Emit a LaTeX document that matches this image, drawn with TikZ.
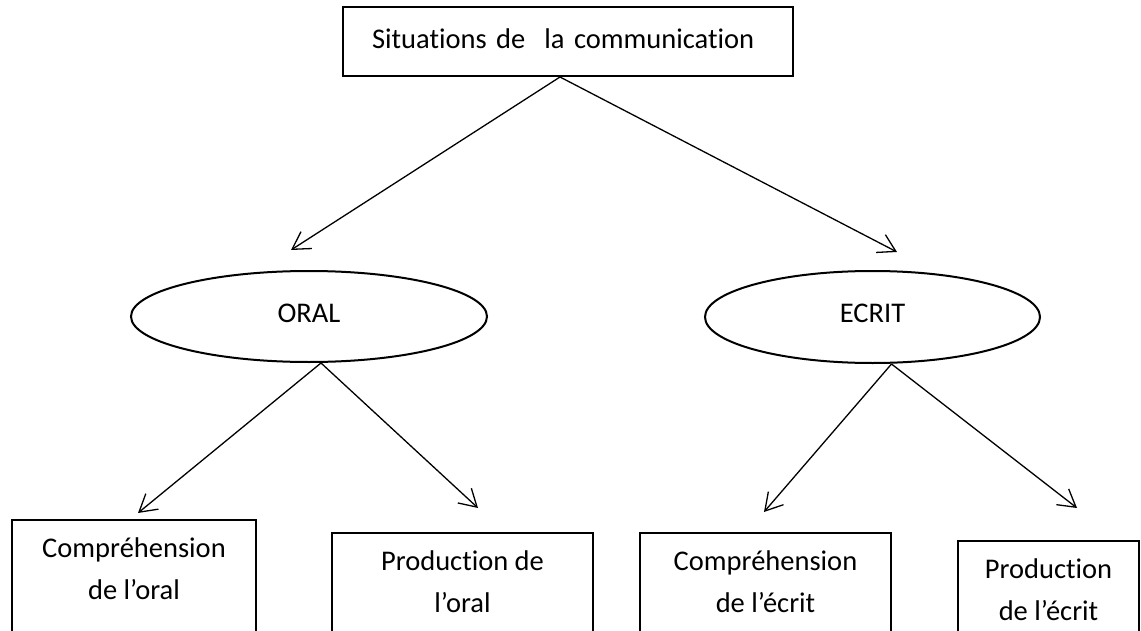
\documentclass[tikz,border=0pt]{standalone}
\usepackage{fontspec}
\setmainfont[Ligatures=NoCommon]{Carlito}
\usetikzlibrary{shapes.geometric,arrows.meta,calc}
\begin{document}
\begin{tikzpicture}[x=0.5pt,y=-0.5pt,
  every node/.style={font=\fontsize{14.25}{21}\selectfont},
  boxst/.style={draw, line width=1pt, rectangle, inner sep=0pt},
  ell/.style={draw, line width=1pt, ellipse, inner sep=0pt, text depth=3.5pt},
  txt/.style={align=center, inner sep=0pt},
  arr/.style={line width=0.65pt, -{Straight Barb[length=8.5pt,width=10pt,line width=0.65pt]}}]
\useasboundingbox (0,0) rectangle (1141,631);
\clip (0,0) rectangle (1141,631);
% top box
\node[boxst, minimum width=225pt, minimum height=34.5pt, text width=196pt, inner xsep=14.5pt, align=left, text depth=3pt] (top) at (568,41.5) {Situations de\ \ la communication};
% ellipses
\node[ell, minimum width=178pt, minimum height=45.5pt] (oral) at (309,316.5) {ORAL};
\node[ell, minimum width=167.5pt, minimum height=46pt] (ecrit) at (872.5,317) {ECRIT};
% bottom boxes
\node[boxst, anchor=north west, minimum width=122pt, minimum height=100pt] (b1) at (11,519) {};
\node[boxst, anchor=north west, minimum width=130.5pt, minimum height=100pt] (b2) at (331,532) {};
\node[boxst, anchor=north west, minimum width=125.5pt, minimum height=100pt] (b3) at (639,532) {};
\node[boxst, anchor=north west, minimum width=90.5pt, minimum height=100pt] (b4) at (957,540) {};
\node[txt, anchor=north] (b1t) at ($(b1.north)+(0,18)$) {Compréhension\\de l’oral};
\node[txt, anchor=north] (b2t) at ($(b2.north)+(0,18)$) {Production de\\l’oral};
\node[txt, anchor=north] (b3t) at ($(b3.north)+(0,18)$) {Compréhension\\de l’écrit};
\node[txt, anchor=north] (b4t) at ($(b4.north)+(0,18)$) {Production\\de l’écrit};
% arrow ends
\coordinate (a1) at (291,250);
\coordinate (a2) at (897,252);
\coordinate (a3) at (138,513);
\coordinate (a4) at (478,508);
\coordinate (a5) at (764,512);
\coordinate (a6) at (1077,508);
\draw[arr] ([xshift=-4pt]top.south) -- (a1);
\draw[arr] ([xshift=-4pt]top.south) -- (a2);
\draw[arr] ([xshift=6pt]oral.south) -- (a3);
\draw[arr] ([xshift=6pt]oral.south) -- (a4);
\draw[arr] ([xshift=9.5pt]ecrit.south) -- (a5);
\draw[arr] ([xshift=9.5pt]ecrit.south) -- (a6);
\end{tikzpicture}
\end{document}
